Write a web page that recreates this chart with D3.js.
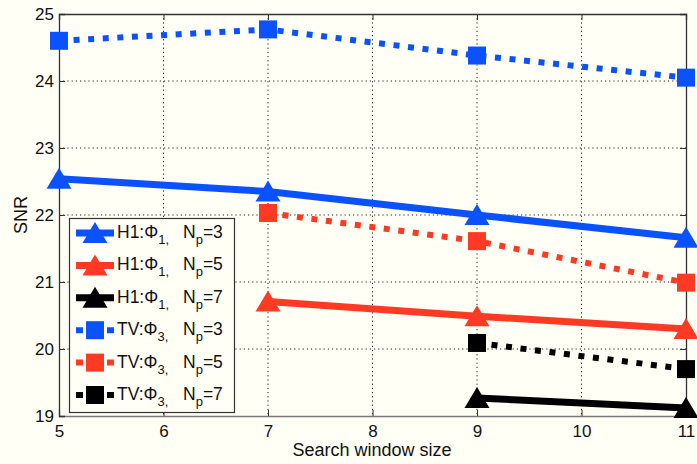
<!DOCTYPE html>
<html>
<head>
<meta charset="utf-8">
<script src="https://cdn.jsdelivr.net/npm/d3@7"></script>
<style>
  body { margin: 0; background: #fffff5; }
  svg { display: block; font-family: "Liberation Sans", Arial, Helvetica, sans-serif; }
</style>
</head>
<body>
<div id="chart"></div>
<script>
// search window sizes
var windowSizes = [5, 7, 9, 11];
var xTicks = [5, 6, 7, 8, 9, 10, 11];
var yTicks = [19, 20, 21, 22, 23, 24, 25];

// SNR values (null = not plotted)
var h1Np3 = [22.54, 22.35, 22.0, 21.66];
var h1Np5 = [null, 20.71, 20.49, 20.3];
var h1Np7 = [null, null, 19.27, 19.12];
var tvNp3 = [24.6, 24.77, 24.38, 24.05];
var tvNp5 = [null, 22.03, 21.61, 20.99];
var tvNp7 = [null, null, 20.09, 19.7];

var seriesNames = ["H1", "H1", "H1", "TV", "TV", "TV"];
var seriesPhi = ["1", "1", "1", "3", "3", "3"];
var seriesNp = ["3", "5", "7", "3", "5", "7"];

var series = [
    {vals: h1Np3, color: "#0a52ff", kind: "tri"},
    {vals: h1Np5, color: "#ff3a24", kind: "tri"},
    {vals: h1Np7, color: "#000000", kind: "tri"},
    {vals: tvNp3, color: "#0a52ff", kind: "sq"},
    {vals: tvNp5, color: "#ff3a24", kind: "sq"},
    {vals: tvNp7, color: "#000000", kind: "sq"}
]

var W = 697, H = 464
var pLeft = 59, pRight = 686, pTop = 14, pBottom = 416

var svg = d3.select('#chart').append('svg')
    .attr('width', W)
    .attr('height', H)

svg.append('rect').attr('width', W).attr('height', H).attr('fill', '#fffff5')

var x = d3.scaleLinear().domain([5, 11]).range([pLeft, pRight])
var y = d3.scaleLinear().domain([19, 25]).range([pBottom, pTop])

// grid, dotted like matlab
var grid = svg.append('g')
grid.selectAll('line.vg')
    .data(xTicks.slice(1, -1))
    .enter().append('line')
    .attr('x1', function(d){return x(d)}).attr('x2', function(d){return x(d)})
    .attr('y1', pTop).attr('y2', pBottom)
grid.selectAll('line.hg')
    .data(yTicks.slice(1, -1))
    .enter().append('line')
    .attr('y1', function(d){return y(d)}).attr('y2', function(d){return y(d)})
    .attr('x1', pLeft).attr('x2', pRight)
grid.selectAll('line')
    .attr('stroke', '#222').attr('stroke-width', 1).attr('stroke-dasharray', '1.2,3')

// axes
var xAxis = d3.axisBottom(x).tickValues(xTicks).tickSize(-6).tickPadding(9).tickFormat(d3.format('d'))
var yAxis = d3.axisLeft(y).tickValues(yTicks).tickSize(-6).tickPadding(5).tickFormat(d3.format('d'))

var gx = svg.append('g').attr('transform', 'translate(0,' + pBottom + ')').call(xAxis)
var gy = svg.append('g').attr('transform', 'translate(' + pLeft + ',0)').call(yAxis)
svg.append('g').attr('transform', 'translate(0,' + pTop + ')')
    .call(d3.axisTop(x).tickValues(xTicks).tickSize(-6).tickFormat(''))
svg.append('g').attr('transform', 'translate(' + pRight + ',0)')
    .call(d3.axisRight(y).tickValues(yTicks).tickSize(-6).tickFormat(''))

svg.selectAll('.domain').attr('stroke', '#333').attr('stroke-width', 1.3)
gx.select('.domain').attr('stroke', '#777')
svg.selectAll('.tick line').attr('stroke', '#333')
svg.selectAll('.tick text').attr('font-size', 17).attr('fill', '#111')
    .attr('font-family', '"Liberation Sans", Arial, sans-serif')

svg.append('text').attr('x', 372).attr('y', 456).attr('text-anchor', 'middle')
    .attr('font-size', 18).attr('fill', '#111').text('Search window size')
svg.append('text').attr('transform', 'translate(27,215) rotate(-90)').attr('text-anchor', 'middle')
    .attr('font-size', 18).attr('fill', '#111').text('SNR')

function triPath(){
    return 'M0,-11L12.5,10L-12.5,10Z'
}

var line = d3.line()
    .defined(function(d){return d.v != null})
    .x(function(d){return x(d.x)})
    .y(function(d){return y(d.v)})

series.forEach(function(s){
    var pts = windowSizes.map(function(w, i){return {x: w, v: s.vals[i]}})
    var path = svg.append('path').datum(pts)
        .attr('d', line)
        .attr('fill', 'none')
        .attr('stroke', s.color)
    if(s.kind == 'tri'){
        path.attr('stroke-width', 7)
    }
    else{
        path.attr('stroke-width', 6).attr('stroke-dasharray', '6,8.6')
    }
    var good = pts.filter(function(d){return d.v != null})
    if(s.kind == 'tri'){
        svg.selectAll(null).data(good).enter().append('path')
            .attr('d', triPath())
            .attr('transform', function(d){return 'translate(' + x(d.x) + ',' + y(d.v) + ')'})
            .attr('fill', s.color)
    }
    else{
        svg.selectAll(null).data(good).enter().append('rect')
            .attr('x', function(d){return x(d.x) - 9})
            .attr('y', function(d){return y(d.v) - 9})
            .attr('width', 18).attr('height', 18)
            .attr('fill', s.color)
    }
})

// legend
var leg = svg.append('g')
leg.append('rect').attr('x', 69.5).attr('y', 218.5).attr('width', 165).attr('height', 194)
    .attr('fill', '#fffff5').attr('stroke', '#333').attr('stroke-width', 1.2)

series.forEach(function(s, i){
    var cy = 233 + i * 32.4
    var g = leg.append('g').attr('transform', 'translate(0,' + cy + ')')
    var l = g.append('line').attr('x1', 76).attr('x2', 114).attr('y1', 0).attr('y2', 0)
        .attr('stroke', s.color)
    if(s.kind == 'tri'){
        l.attr('stroke-width', 7)
        g.append('path').attr('d', triPath()).attr('transform', 'translate(95,0)').attr('fill', s.color)
    }
    else{
        l.attr('stroke-width', 6).attr('stroke-dasharray', '7,8.5')
        g.append('rect').attr('x', 86).attr('y', -9).attr('width', 18).attr('height', 18).attr('fill', s.color)
    }
    var t = g.append('text').attr('x', 117).attr('y', 5).attr('font-size', 17.5).attr('fill', '#111')
    t.append('tspan').text(seriesNames[i] + ':\u03A6')
    t.append('tspan').attr('dy', 6).attr('font-size', 13).text(seriesPhi[i] + ',')
    var t2 = g.append('text').attr('x', 183).attr('y', 5).attr('font-size', 17.5).attr('fill', '#111')
    t2.append('tspan').text('N')
    t2.append('tspan').attr('dy', 6).attr('font-size', 13).text('p')
    t2.append('tspan').attr('dy', -6).text('=' + seriesNp[i])
})
</script>
</body>
</html>
